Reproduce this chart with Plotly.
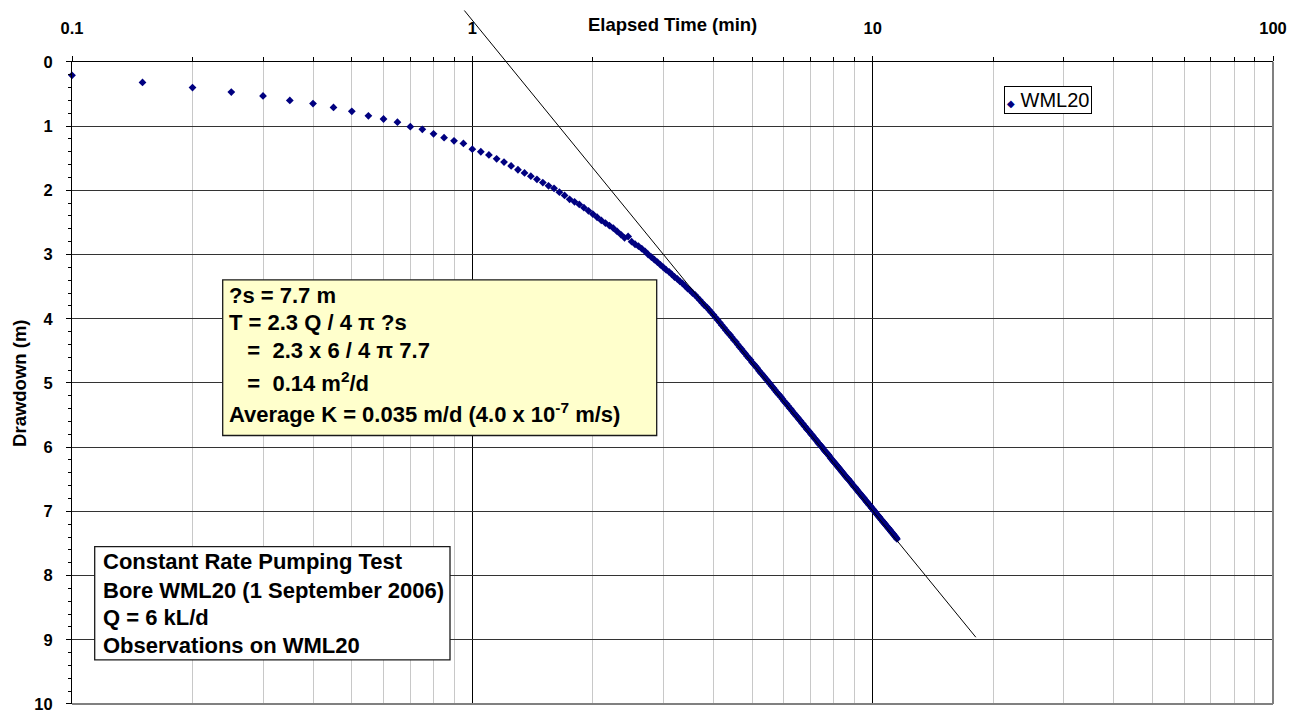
import plotly.graph_objects as go

# ---------------------------------------------------------------
# Constant rate pumping test, bore WML20 (1 September 2006)
# Drawdown logged every 3 seconds (0.05 min), starting at 0.1 min
# ---------------------------------------------------------------
log_start_min = 0.10
log_step_min = 0.05

drawdown_m = [
    # 0.10 - 2.50 min
    0.21, 0.32, 0.40, 0.47, 0.53, 0.60, 0.65, 0.71, 0.77, 0.84,
    0.89, 0.94, 1.01, 1.05, 1.12, 1.18, 1.23, 1.27, 1.36, 1.40,
    1.45, 1.51, 1.56, 1.62, 1.68, 1.73, 1.78, 1.83, 1.88, 1.93,
    1.97, 2.03, 2.08, 2.14, 2.18, 2.22, 2.27, 2.32, 2.37, 2.42,
    2.47, 2.51, 2.55, 2.59, 2.64, 2.69, 2.74, 2.72, 2.80,
    # 2.55 - 3.95 min
    2.84, 2.87, 2.91, 2.95, 3.00, 3.04, 3.08, 3.12, 3.16, 3.20,
    3.24, 3.27, 3.31, 3.35, 3.38, 3.42, 3.45, 3.49, 3.53, 3.56,
    3.60, 3.63, 3.67, 3.71, 3.75, 3.79, 3.82, 3.86, 3.90,
    # 4.00 - 4.95 min
    3.94, 3.98, 4.02, 4.06, 4.10, 4.14, 4.18, 4.22, 4.25, 4.29,
    4.33, 4.36, 4.40, 4.44, 4.47, 4.51, 4.54, 4.58, 4.61, 4.64,
    # 5.00 - 5.95 min
    4.68, 4.71, 4.74, 4.77, 4.81, 4.84, 4.87, 4.90, 4.93, 4.96,
    4.99, 5.02, 5.05, 5.08, 5.11, 5.14, 5.17, 5.19, 5.22, 5.25,
    # 6.00 - 6.95 min
    5.28, 5.31, 5.33, 5.36, 5.39, 5.41, 5.44, 5.47, 5.49, 5.52,
    5.54, 5.57, 5.59, 5.62, 5.64, 5.67, 5.69, 5.72, 5.74, 5.76,
    # 7.00 - 7.95 min
    5.79, 5.81, 5.83, 5.86, 5.88, 5.90, 5.93, 5.95, 5.97, 5.99,
    6.01, 6.04, 6.06, 6.08, 6.10, 6.12, 6.14, 6.17, 6.19, 6.21,
    # 8.00 - 8.95 min
    6.23, 6.25, 6.27, 6.29, 6.31, 6.33, 6.35, 6.37, 6.39, 6.41,
    6.43, 6.45, 6.47, 6.49, 6.50, 6.52, 6.54, 6.56, 6.58, 6.60,
    # 9.00 - 9.95 min
    6.62, 6.63, 6.65, 6.67, 6.69, 6.71, 6.72, 6.74, 6.76, 6.78,
    6.79, 6.81, 6.83, 6.85, 6.86, 6.88, 6.90, 6.91, 6.93, 6.95,
    # 10.00 - 10.95 min
    6.96, 6.98, 7.00, 7.01, 7.03, 7.05, 7.06, 7.08, 7.09, 7.11,
    7.13, 7.14, 7.16, 7.17, 7.19, 7.20, 7.22, 7.23, 7.25, 7.26,
    # 11.00 - 11.50 min
    7.28, 7.29, 7.31, 7.32, 7.34, 7.35, 7.37, 7.38, 7.40, 7.41,
    7.43,
]
elapsed_min = [round(log_start_min + log_step_min * i, 2) for i in range(len(drawdown_m))]

# Cooper-Jacob straight-line fit (end points of the drawn line)
fit_time_min = [0.955, 18.1]
fit_drawdown_m = [-0.80, 8.96]

# Axis ticks
x_major = [0.1, 1, 10, 100]
x_major_text = ["0.1", "1", "10", "100"]
x_minor = [m * d for d in (0.1, 1, 10) for m in range(2, 10)]
y_major = list(range(0, 11))

series_name = "WML20"

analysis_lines = [
    "?s = 7.7 m",
    "T = 2.3 Q / 4 \u03c0 ?s",
    "\u00a0\u00a0\u00a0=\u00a0\u00a02.3 x 6 / 4 \u03c0 7.7",
    "\u00a0\u00a0\u00a0=\u00a0\u00a00.14 m<sup>2</sup>/d",
    "Average K = 0.035 m/d (4.0 x 10<sup>-7</sup> m/s)",
]
test_lines = [
    "Constant Rate Pumping Test",
    "Bore WML20 (1 September 2006)",
    "Q = 6 kL/d",
    "Observations on WML20",
]

# ---------------------------------------------------------------
# Page geometry
# ---------------------------------------------------------------
W, H = 1292, 713
ML, MR, MT, MB = 72, 19, 0, 3
PW, PH = W - ML - MR, H - MT - MB
PLOT_TOP = 54          # pixel row of the top (time) axis
Y_MAX = 10.0
px_per_m = (PH - PLOT_TOP) / Y_MAX
y_top_frac = (PH - PLOT_TOP) / PH

FONT = "Liberation Sans, Arial, sans-serif"


def fx(px):
    return (px - ML) / PW


def fy(py):
    return (H - MB - py) / PH


fig = go.Figure()

fig.add_trace(go.Scatter(
    x=elapsed_min, y=drawdown_m, mode="markers", name=series_name,
    marker=dict(symbol="diamond", size=6, color="#000080", line=dict(width=0)),
    cliponaxis=False, showlegend=False, xaxis="x", yaxis="y",
))

# the fitted line runs past the top axis, so it lives on a full-height axis pair
fig.add_trace(go.Scatter(
    x=fit_time_min, y=fit_drawdown_m, mode="lines",
    line=dict(color="black", width=1), showlegend=False,
    hoverinfo="skip", xaxis="x2", yaxis="y2",
))

tick_font = dict(family=FONT, size=16.5, color="black", weight="bold")

fig.update_layout(
    width=W, height=H,
    margin=dict(l=ML, r=MR, t=MT, b=MB, pad=0),
    paper_bgcolor="white", plot_bgcolor="rgba(0,0,0,0)",
    showlegend=False,
    xaxis=dict(
        type="log", range=[-1, 2], side="top", anchor="y", domain=[0, 1],
        tickmode="array", tickvals=x_major, ticktext=x_major_text,
        ticks="outside", ticklen=5, tickcolor="black", tickwidth=1,
        tickfont=tick_font, ticklabelstandoff=15, ticklabeloverflow="allow",
        showgrid=True, gridcolor="black", gridwidth=1,
        showline=True, linecolor="black", linewidth=1, zeroline=False,
        minor=dict(tickmode="array", tickvals=x_minor, ticks="outside", ticklen=4,
                   tickcolor="black", showgrid=True, gridcolor="#c8c8c8", gridwidth=1),
    ),
    yaxis=dict(
        range=[Y_MAX, 0], domain=[0, y_top_frac], anchor="x",
        tickmode="array", tickvals=y_major,
        ticks="outside", ticklen=5, tickcolor="black",
        tickfont=tick_font, ticklabelstandoff=10, ticklabeloverflow="allow",
        showgrid=True, gridcolor="#333333", gridwidth=1,
        showline=True, linecolor="black", linewidth=1, zeroline=False,
        minor=dict(dtick=0.2, ticks="outside", ticklen=3, tickcolor="black", showgrid=False),
    ),
    xaxis2=dict(type="log", range=[-1, 2], domain=[0, 1], anchor="y2",
                visible=False, showgrid=False),
    yaxis2=dict(range=[Y_MAX, Y_MAX - PH / px_per_m], domain=[0, 1], anchor="x2",
                visible=False, showgrid=False),
)

shapes = [
    # plot-area frame on the right and bottom
    dict(type="line", xref="x domain", yref="y domain", x0=1, x1=1, y0=0, y1=1,
         line=dict(color="#808080", width=2)),
    dict(type="line", xref="x domain", yref="y domain", x0=0, x1=1, y0=0, y1=0,
         line=dict(color="#808080", width=2)),
    # analysis text box
    dict(type="rect", xref="paper", yref="paper",
         x0=fx(222.7), x1=fx(656.7), y0=fy(435.7), y1=fy(276.7),
         fillcolor="#ffffcc", line=dict(color="#1a1a1a", width=1.3), layer="above"),
    # test description box
    dict(type="rect", xref="paper", yref="paper",
         x0=fx(94.7), x1=fx(450), y0=fy(665), y1=fy(549.3),
         fillcolor="white", line=dict(color="#1a1a1a", width=1.3), layer="above"),
]
fig.update_layout(shapes=shapes)

box_font = dict(family=FONT, size=22, color="black", weight="bold")
annotations = []
for text, yc in zip(analysis_lines, [292.3, 320.3, 349.3, 381.0, 412.7]):
    annotations.append(dict(xref="paper", yref="paper", x=fx(226.7), y=fy(yc),
                            xanchor="left", yanchor="middle", text=text,
                            showarrow=False, font=box_font, align="left"))
for text, yc in zip(test_lines, [564.3, 594.3, 621.7, 650.0]):
    annotations.append(dict(xref="paper", yref="paper", x=fx(100.7), y=fy(yc),
                            xanchor="left", yanchor="middle", text=text,
                            showarrow=False, font=box_font, align="left"))

title_font = dict(family=FONT, size=18.5, color="black", weight="bold")
annotations.append(dict(xref="paper", yref="paper", x=fx(672), y=fy(16),
                        xanchor="center", yanchor="middle", text="Elapsed Time (min)",
                        showarrow=False, font=title_font))
annotations.append(dict(xref="paper", yref="paper", x=fx(20), y=fy(382),
                        xanchor="center", yanchor="middle", text="Drawdown (m)",
                        textangle=-90, showarrow=False, font=title_font))

# series key
annotations.append(dict(
    xref="paper", yref="paper", x=fx(1003.5), y=fy(79),
    xanchor="left", yanchor="top",
    text='<span style="color:#000080;font-size:10px">\u25c6</span> ' + series_name,
    showarrow=False, font=dict(family=FONT, size=20, color="black"),
    bgcolor="white", bordercolor="black", borderwidth=1, borderpad=2,
))
fig.update_layout(annotations=annotations)

fig.write_html("out.html")
